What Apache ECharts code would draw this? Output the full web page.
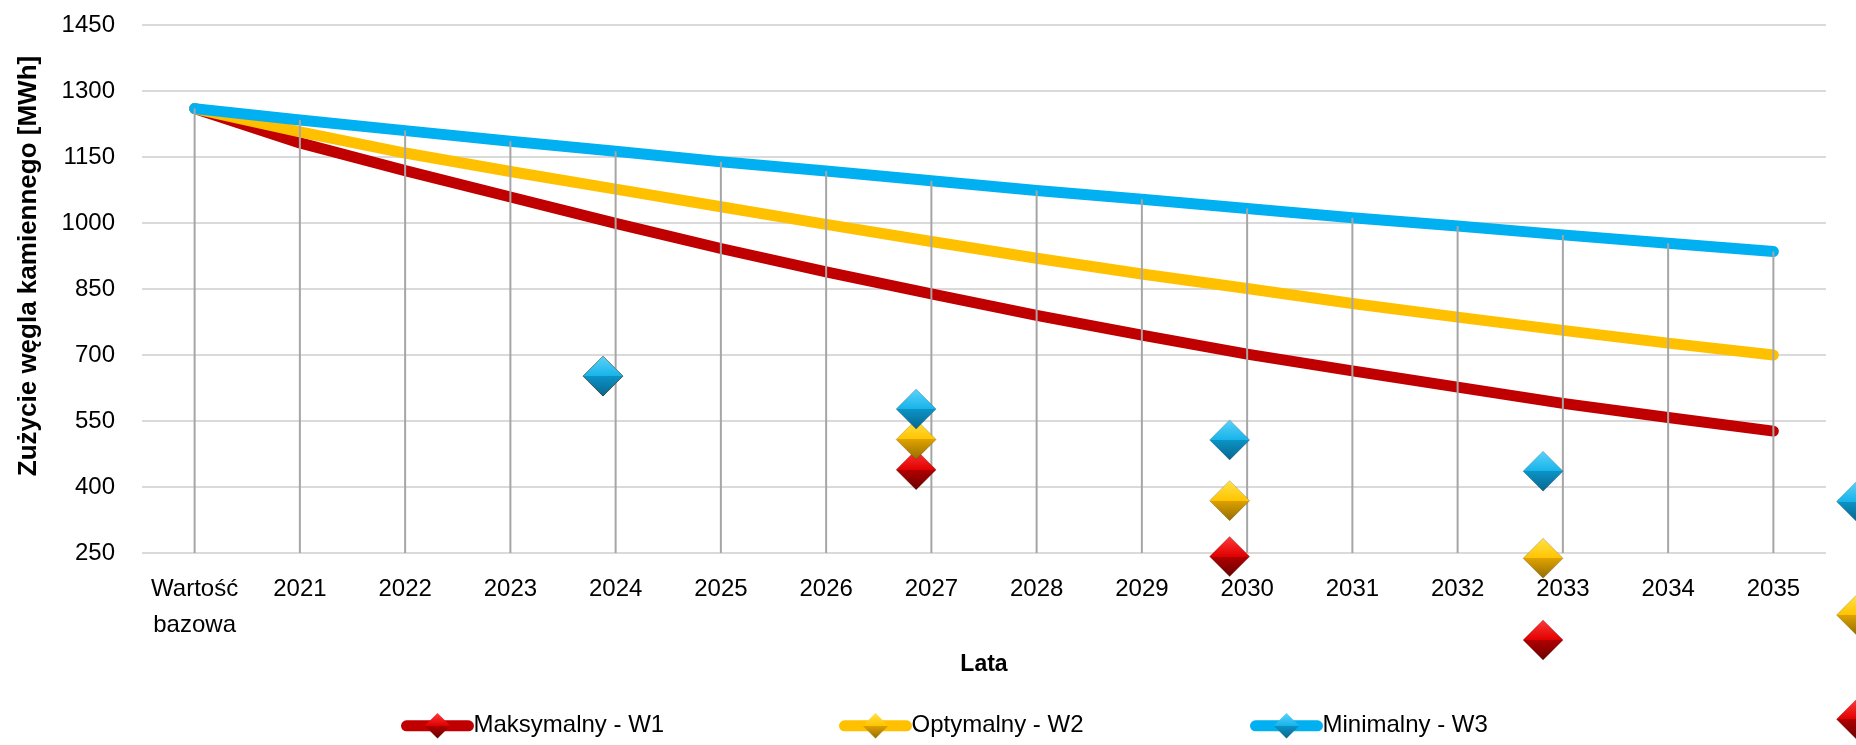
<!DOCTYPE html>
<html>
<head>
<meta charset="utf-8">
<script src="https://cdn.jsdelivr.net/npm/echarts@6/dist/echarts.min.js"></script>
<style>
  html, body { margin: 0; padding: 0; background: #fff; }
  #chart { width: 1856px; height: 745px; }
</style>
</head>
<body>
<div id="chart"></div>
<script>
const years = ['Wartość\nbazowa', '2021', '2022', '2023', '2024', '2025', '2026', '2027',
  '2028', '2029', '2030', '2031', '2032', '2033', '2034', '2035']

const w1 = [1260, 1182, 1119, 1059, 999, 942, 889, 839, 790, 745, 702, 664, 627, 590, 558, 527]
const w2 = [1260, 1207, 1159, 1117, 1077, 1037, 997, 958, 920, 884, 851, 817, 786, 756, 727, 700]
const w3 = [1260, 1234, 1210, 1186, 1163, 1139, 1118, 1096, 1074, 1054, 1033, 1012, 993, 973, 954, 935]

// diamonds sit off the year grid, every ~3 categories
const markerPos = [3.88, 6.855, 9.834, 12.812, 15.79]
const w1Markers = [652, 439, 242, 52, -128]
const w2Markers = [652, 508, 369, 238, 109]
const w3Markers = [652, 577, 507, 436, 367]

const yTicks = [250, 400, 550, 700, 850, 1000, 1150, 1300, 1450]

const names = ['Maksymalny - W1', 'Optymalny - W2', 'Minimalny - W3']
const lineColors = ['#C00000', '#FFC000', '#00B0F0']
const gems = [
  ['#ff3a3a', '#e00000', '#b00000', '#6a0000'],
  ['#ffe24a', '#ffc400', '#dea200', '#946c00'],
  ['#5cd3fa', '#17b3ea', '#0b93c6', '#07668e']
]
const legendLeft = [396, 834, 1245]

const font = "'Liberation Sans', Arial, sans-serif"

const gem = (c) => new echarts.graphic.LinearGradient(0, 0, 0, 1, [
  { offset: 0, color: c[0] },
  { offset: 0.5, color: c[1] },
  { offset: 0.5, color: c[2] },
  { offset: 1, color: c[3] }
])

const chart = echarts.init(document.getElementById('chart'))

const lineSeries = [w1, w2, w3].map((d, i) => ({
  name: names[i],
  type: 'line',
  data: d,
  symbol: 'diamond',
  showSymbol: false,
  z: 2,
  lineStyle: { color: lineColors[i], width: 11, cap: 'round', join: 'round' },
  itemStyle: { color: gem(gems[i]) },
  emphasis: { disabled: true }
}))

const markerSeries = [w1Markers, w2Markers, w3Markers].map((d, i) => ({
  name: names[i],
  type: 'scatter',
  xAxisIndex: 1,
  data: d.map((v, k) => [markerPos[k], v]),
  symbol: 'diamond',
  symbolSize: 40,
  clip: false,
  z: 4,
  itemStyle: {
    color: gem(gems[i]),
    opacity: 1,
    borderColor: 'rgba(0,0,0,0.3)',
    borderWidth: 0.6
  },
  emphasis: { disabled: true }
}))

chart.setOption({
  animation: false,
  grid: { left: 142, right: 30, top: 25, bottom: 192 },
  legend: names.map((n, i) => ({
    data: [n],
    left: legendLeft[i],
    top: 708,
    itemWidth: 62,
    itemHeight: 32,
    lineStyle: { width: 11, cap: 'round' },
    textStyle: { fontFamily: font, fontSize: 24, color: '#000' }
  })),
  xAxis: [
    {
      type: 'category',
      data: years,
      name: 'Lata',
      nameLocation: 'middle',
      nameGap: 100,
      nameTextStyle: { fontFamily: font, fontSize: 23, fontWeight: 'bold', color: '#000' },
      axisLine: { show: false },
      axisTick: { show: false },
      axisLabel: {
        interval: 0,
        margin: 18,
        fontFamily: font,
        fontSize: 24,
        lineHeight: 36,
        color: '#000'
      }
    },
    { type: 'value', min: -0.5, max: 15.5, show: false }
  ],
  yAxis: {
    type: 'value',
    min: 250,
    max: 1450,
    name: 'Zużycie węgla kamiennego [MWh]',
    nameLocation: 'middle',
    nameGap: 100,
    nameTextStyle: {
      fontFamily: font, fontSize: 26, fontWeight: 'bold', color: '#000',
      padding: [0, 0, 0, 46]
    },
    axisLine: { show: false },
    axisTick: { show: false, customValues: yTicks },
    axisLabel: {
      customValues: yTicks,
      formatter: (v) => String(v),
      margin: 27,
      fontFamily: font,
      fontSize: 24,
      color: '#000'
    },
    splitLine: { lineStyle: { color: '#DADADA', width: 2 } }
  },
  series: [
    ...lineSeries,
    {
      name: 'drop',
      type: 'bar',
      data: years.map((_, i) => Math.max(w1[i], w2[i], w3[i])),
      barWidth: 2,
      z: 3,
      itemStyle: { color: '#A6A6A6' },
      emphasis: { disabled: true }
    },
    ...markerSeries
  ]
})
</script>
</body>
</html>
